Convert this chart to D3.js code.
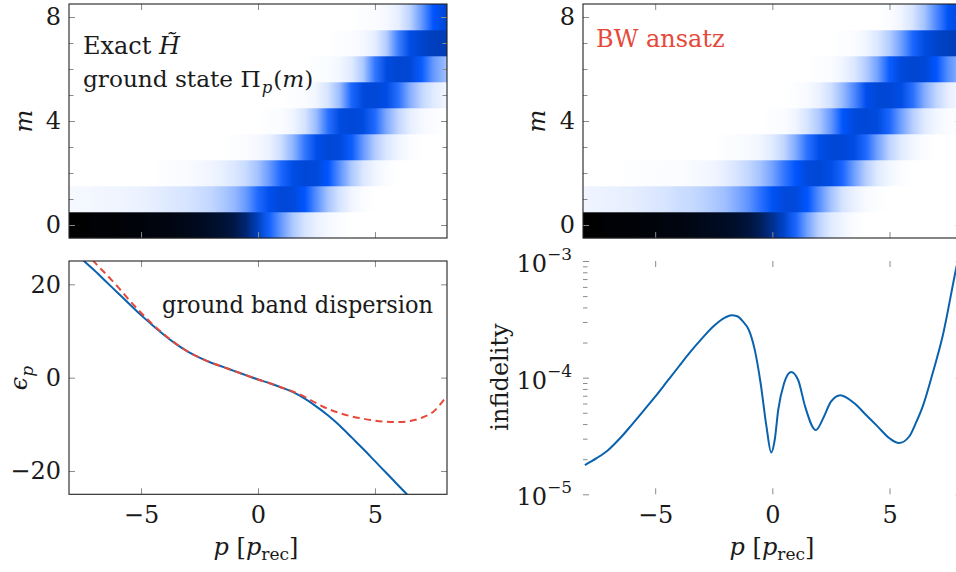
<!DOCTYPE html>
<html><head><meta charset="utf-8">
<script src="https://cdn.jsdelivr.net/npm/d3@7"></script>
<style>
body{margin:0;background:#fff;}
svg text{font-family:"DejaVu Serif",serif;fill:#1a1a1a;}
</style>
</head><body>
<svg id="chart" width="956" height="572"></svg>
<script>
// ---------------- data ----------------
const pGrid = [-8,-7.5,-7,-6.5,-6,-5.5,-5,-4.5,-4,-3.5,-3,-2.5,-2,-1.5,-1,-0.5,0,0.5,1,1.5,2,2.5,3,3.5,4,4.5,5,5.5,6,6.5,7,7.5,8];
const mValues = [0,1,2,3,4,5,6,7,8];

// exact ground state Pi_p(m), one array per m (columns follow pGrid)
const exactM0 = [1.00,1.00,0.99,0.99,0.99,0.98,0.98,0.97,0.97,0.96,0.95,0.94,0.92,0.90,0.86,0.77,0.62,0.46,0.30,0.16,0.08,0.04,0.02,0.01,0,0,0,0,0,0,0,0,0];
const exactM1 = [0.02,0.02,0.025,0.03,0.03,0.035,0.04,0.05,0.06,0.07,0.08,0.10,0.12,0.16,0.21,0.30,0.44,0.54,0.58,0.57,0.50,0.33,0.17,0.08,0.03,0.01,0,0,0,0,0,0,0];
const exactM2 = [0,0,0,0,0,0,0,0,0.005,0.008,0.012,0.02,0.03,0.045,0.07,0.11,0.18,0.30,0.45,0.55,0.58,0.57,0.50,0.32,0.16,0.07,0.03,0.01,0,0,0,0,0];
const exactM3 = [0,0,0,0,0,0,0,0,0,0,0,0,0,0,0.005,0.01,0.02,0.04,0.10,0.22,0.40,0.54,0.58,0.57,0.48,0.30,0.15,0.07,0.03,0.01,0,0,0];
const exactM4 = [0,0,0,0,0,0,0,0,0,0,0,0,0,0,0,0,0,0.005,0.01,0.03,0.08,0.20,0.42,0.56,0.58,0.56,0.44,0.25,0.12,0.05,0.02,0.01,0];
const exactM5 = [0,0,0,0,0,0,0,0,0,0,0,0,0,0,0,0,0,0,0,0.005,0.01,0.03,0.08,0.20,0.45,0.57,0.58,0.55,0.42,0.24,0.12,0.06,0.03];
const exactM6 = [0,0,0,0,0,0,0,0,0,0,0,0,0,0,0,0,0,0,0,0,0,0.005,0.01,0.025,0.06,0.16,0.40,0.56,0.59,0.58,0.48,0.30,0.20];
const exactM7 = [0,0,0,0,0,0,0,0,0,0,0,0,0,0,0,0,0,0,0,0,0,0,0,0.005,0.01,0.02,0.05,0.15,0.38,0.55,0.60,0.63,0.64];
const exactM8 = [0,0,0,0,0,0,0,0,0,0,0,0,0,0,0,0,0,0,0,0,0,0,0,0,0,0.005,0.01,0.02,0.05,0.13,0.30,0.50,0.58];

// BW ansatz Pi_p(m)
const bwM0 = [1.00,1.00,0.99,0.99,0.99,0.98,0.98,0.97,0.97,0.96,0.95,0.94,0.93,0.91,0.88,0.82,0.72,0.60,0.45,0.27,0.13,0.06,0.03,0.01,0,0,0,0,0,0,0,0,0];
const bwM1 = [0.03,0.035,0.04,0.045,0.05,0.06,0.07,0.08,0.10,0.11,0.13,0.16,0.19,0.25,0.32,0.42,0.52,0.57,0.57,0.50,0.33,0.18,0.08,0.04,0.015,0.005,0,0,0,0,0,0,0];
const bwM2 = [0,0,0,0,0.003,0.005,0.007,0.01,0.01,0.015,0.02,0.03,0.05,0.08,0.12,0.18,0.27,0.40,0.50,0.57,0.58,0.55,0.45,0.28,0.14,0.06,0.025,0.01,0,0,0,0,0];
const bwM3 = [0,0,0,0,0,0,0,0,0,0,0,0,0.005,0.01,0.015,0.03,0.06,0.12,0.25,0.42,0.54,0.58,0.58,0.55,0.44,0.27,0.13,0.06,0.025,0.01,0,0,0];
const bwM4 = [0,0,0,0,0,0,0,0,0,0,0,0,0,0,0,0,0.005,0.01,0.03,0.08,0.16,0.30,0.50,0.57,0.58,0.56,0.45,0.28,0.14,0.06,0.025,0.01,0.005];
const bwM5 = [0,0,0,0,0,0,0,0,0,0,0,0,0,0,0,0,0,0,0.005,0.015,0.04,0.09,0.20,0.35,0.54,0.58,0.58,0.55,0.42,0.24,0.12,0.05,0.02];
const bwM6 = [0,0,0,0,0,0,0,0,0,0,0,0,0,0,0,0,0,0,0,0,0.005,0.01,0.03,0.07,0.15,0.28,0.48,0.57,0.59,0.58,0.50,0.33,0.22];
const bwM7 = [0,0,0,0,0,0,0,0,0,0,0,0,0,0,0,0,0,0,0,0,0,0,0.005,0.01,0.03,0.07,0.15,0.28,0.45,0.56,0.60,0.63,0.64];
const bwM8 = [0,0,0,0,0,0,0,0,0,0,0,0,0,0,0,0,0,0,0,0,0,0,0,0,0,0,0.01,0.03,0.08,0.18,0.35,0.52,0.58];

// ground band dispersion
const dispP     = [-8,-7.5,-7,-6.5,-6,-5.5,-5,-4.5,-4,-3.5,-3,-2.5,-2,-1.5,-1,-0.5,0,0.5,1,1.5,2,2.5,3,3.5,4,4.5,5,5.5,6,6.5,7,7.5,8];
const dispExact = [28,25.3,23.0,20.6,18.2,15.8,13.4,11.2,9.1,7.2,5.6,4.3,3.2,2.3,1.4,0.5,-0.4,-1.2,-2.1,-3.1,-4.5,-6.2,-8.1,-10.3,-12.8,-15.3,-17.9,-20.5,-23.1,-25.7,-28.3,-31,-33.6];
const dispBW    = [31,28,24.8,22.2,19.5,16.6,13.9,11.4,9.2,7.25,5.6,4.3,3.2,2.3,1.4,0.5,-0.4,-1.2,-2.1,-3.0,-4.1,-5.5,-6.7,-7.6,-8.3,-8.8,-9.2,-9.45,-9.5,-9.3,-8.6,-7.3,-4.4];

// infidelity
const infP   = [-8,-7.5,-7,-6.5,-6,-5.5,-5,-4.5,-4,-3.5,-3,-2.5,-2,-1.75,-1.5,-1.25,-1,-0.75,-0.5,-0.25,-0.05,0.1,0.25,0.5,0.8,1.1,1.4,1.85,2.2,2.5,2.9,3.5,4,4.5,5,5.4,5.84,6.12,6.41,6.84,7.26,7.83,8.1];
const infVal = [1.78e-5,2.04e-5,2.40e-5,3.02e-5,3.94e-5,5.19e-5,6.87e-5,9.23e-5,1.24e-4,1.66e-4,2.17e-4,2.77e-4,3.29e-4,3.42e-4,3.36e-4,3.02e-4,2.56e-4,1.73e-4,8.95e-5,3.8e-5,2.28e-5,2.92e-5,5.28e-5,8.95e-5,1.12e-4,9.55e-5,5.64e-5,3.55e-5,4.63e-5,6.22e-5,7.08e-5,6.03e-5,4.79e-5,3.8e-5,3.02e-5,2.75e-5,3.13e-5,4.07e-5,5.62e-5,1.09e-4,2.24e-4,8.38e-4,1.5e-3];

const xTicks = [-5,0,5];
const mTicks = [0,4,8];
const mMinor = [0,1,2,3,4,5,6,7,8];
const epsTicks = [-20,0,20];
const infTicks = [1e-5,1e-4,1e-3];
const infMinor = [2e-5,3e-5,4e-5,5e-5,6e-5,7e-5,8e-5,9e-5,2e-4,3e-4,4e-4,5e-4,6e-4,7e-4,8e-4,9e-4];

// ---------------- drawing ----------------
const svg = d3.select("#chart");
const defs = svg.append("defs");
const FONT = "'DejaVu Serif', serif";
const FS = 24;
const SUB = 17;
const tickCol = "#8a8a8a";
const frameCol = "#222";
const blue = "#0a62ae";
const red = "#e6493a";

const xDomain = [-8.08, 8.08];
const L = {
  tl:{x:[69,447],   y:[4,238]},
  tr:{x:[583,961.7],y:[4,238]},
  bl:{x:[69,447],   y:[261,494.3]},
  br:{x:[583,961.7],y:[261,494.3]}
};

const heatColor = d3.scaleLinear().domain([0,0.5,1]).range(["#ffffff","#0055ff","#000000"]).interpolate(d3.interpolateRgb);

function xScale(k){ return d3.scaleLinear().domain(xDomain).range(L[k].x); }

function frame(k){
  const b=L[k];
  svg.append("rect").attr("x",b.x[0]).attr("y",b.y[0]).attr("width",b.x[1]-b.x[0]).attr("height",b.y[1]-b.y[0])
    .attr("fill","none").attr("stroke",frameCol).attr("stroke-width",1.1);
}

function styleAxis(g){
  g.select(".domain").remove();
  g.selectAll(".tick line").attr("stroke",tickCol).attr("stroke-width",1);
  g.attr("font-family",FONT).attr("font-size",FS);
  g.selectAll("text").attr("fill","#1a1a1a");
}

function xAxes(k,x,labels){
  const b=L[k];
  const gb = svg.append("g").attr("transform",`translate(0,${b.y[1]})`)
    .call(d3.axisBottom(x).tickValues(xTicks).tickSizeInner(-6).tickSizeOuter(0).tickPadding(12)
      .tickFormat(labels? d3.format("d") : ""));
  styleAxis(gb);
  const gt = svg.append("g").attr("transform",`translate(0,${b.y[0]})`)
    .call(d3.axisTop(x).tickValues(xTicks).tickSizeInner(-6).tickSizeOuter(0).tickFormat(""));
  styleAxis(gt);
}

function yAxes(k,y,major,minor,fmt){
  const b=L[k];
  const gl = svg.append("g").attr("transform",`translate(${b.x[0]},0)`)
    .call(d3.axisLeft(y).tickValues(major).tickSizeInner(-6).tickSizeOuter(0).tickPadding(8).tickFormat(fmt));
  styleAxis(gl);
  const gr = svg.append("g").attr("transform",`translate(${b.x[1]},0)`)
    .call(d3.axisRight(y).tickValues(major).tickSizeInner(-6).tickSizeOuter(0).tickFormat(""));
  styleAxis(gr);
  if(minor){
    [["L",b.x[0]],["R",b.x[1]]].forEach(([s,xx])=>{
      const ax = (s==="L"? d3.axisLeft(y): d3.axisRight(y)).tickValues(minor).tickSizeInner(-4.5).tickSizeOuter(0).tickFormat("");
      const g = svg.append("g").attr("transform",`translate(${xx},0)`).call(ax);
      styleAxis(g);
    });
  }
  return gl;
}

function heatPanel(k, rows, id){
  const x = xScale(k);
  const y = d3.scaleLinear().domain([-0.5,8.5]).range([L[k].y[1],L[k].y[0]]);
  const x0 = x(pGrid[0]), x1 = x(pGrid[pGrid.length-1]);
  rows.forEach((vals,i)=>{
    const gid = `${id}-row${i}`;
    const grad = defs.append("linearGradient").attr("id",gid).attr("gradientUnits","userSpaceOnUse")
      .attr("x1",x0).attr("x2",x1).attr("y1",0).attr("y2",0);
    vals.forEach((v,j)=>{
      grad.append("stop").attr("offset",(x(pGrid[j])-x0)/(x1-x0)).attr("stop-color",heatColor(v));
    });
  });
  svg.append("g").selectAll("rect").data(mValues).join("rect")
    .attr("x",x(xDomain[0])).attr("width",x(xDomain[1])-x(xDomain[0]))
    .attr("y",m=>y(m+0.5)).attr("height",m=>y(m-0.5)-y(m+0.5)+0.3)
    .attr("fill",m=>`url(#${id}-row${m})`);
  xAxes(k,x,false);
  yAxes(k,y,mTicks,mMinor,d3.format("d"));
  frame(k);
  return {x,y};
}

function T(sel){ return sel.attr("font-family",FONT).attr("font-size",FS); }

// top-left: exact
heatPanel("tl",[exactM0,exactM1,exactM2,exactM3,exactM4,exactM5,exactM6,exactM7,exactM8],"ex");
// top-right: BW ansatz
heatPanel("tr",[bwM0,bwM1,bwM2,bwM3,bwM4,bwM5,bwM6,bwM7,bwM8],"bw");

// m labels
[["tl",32],["tr",545]].forEach(([k,xx])=>{
  T(svg.append("text")).attr("transform",`translate(${xx},121) rotate(-90)`).attr("text-anchor","middle")
    .attr("font-style","italic").text("m");
});

// panel annotations
const t1 = T(svg.append("text")).attr("x",83).attr("y",54);
t1.append("tspan").text("Exact ");
t1.append("tspan").attr("font-style","italic").text("H\u0303");
const t2 = T(svg.append("text")).attr("x",83).attr("y",87).attr("font-size",23.2);
t2.append("tspan").text("ground state Π");
t2.append("tspan").attr("font-style","italic").attr("font-size",16.5).attr("dx",1).attr("dy",6).text("p");
t2.append("tspan").attr("dx",1).attr("dy",-6).text("(");
t2.append("tspan").attr("font-style","italic").text("m");
t2.append("tspan").text(")");
T(svg.append("text")).attr("x",596).attr("y",47).style("fill",red).text("BW ansatz");

// ---------- bottom-left: dispersion ----------
{
  const k="bl";
  const x = xScale(k);
  const y = d3.scaleLinear().domain([-25,25]).range([L[k].y[1],L[k].y[0]]);
  defs.append("clipPath").attr("id","clipBL").append("rect")
    .attr("x",L[k].x[0]).attr("y",L[k].y[0]).attr("width",L[k].x[1]-L[k].x[0]).attr("height",L[k].y[1]-L[k].y[0]);
  const line = d3.line().x(d=>x(d[0])).y(d=>y(d[1])).curve(d3.curveCatmullRom.alpha(0.5));
  const g = svg.append("g").attr("clip-path","url(#clipBL)");
  g.append("path").datum(d3.zip(dispP,dispExact)).attr("d",line).attr("fill","none").attr("stroke",blue).attr("stroke-width",2);
  g.append("path").datum(d3.zip(dispP,dispBW)).attr("d",line).attr("fill","none").attr("stroke",red).attr("stroke-width",2).attr("stroke-dasharray","7,4.5");
  xAxes(k,x,true);
  yAxes(k,y,epsTicks,null,d3.format("d"));
  frame(k);
  T(svg.append("text")).attr("x",162).attr("y",313).attr("textLength",271).attr("lengthAdjust","spacingAndGlyphs").text("ground band dispersion");
  const el = T(svg.append("text")).attr("transform","translate(27,378) rotate(-90)").attr("text-anchor","middle");
  el.append("tspan").attr("font-style","italic").text("ϵ");
  el.append("tspan").attr("font-style","italic").attr("font-size",SUB).attr("dy",6).text("p");
}

// ---------- bottom-right: infidelity ----------
{
  const k="br";
  const x = xScale(k);
  const y = d3.scaleLog().domain([1e-5,1e-3]).range([L[k].y[1],L[k].y[0]]);
  defs.append("clipPath").attr("id","clipBR").append("rect")
    .attr("x",L[k].x[0]).attr("y",L[k].y[0]).attr("width",L[k].x[1]-L[k].x[0]).attr("height",L[k].y[1]-L[k].y[0]);
  const line = d3.line().x(d=>x(d[0])).y(d=>y(d[1])).curve(d3.curveMonotoneX);
  svg.append("g").attr("clip-path","url(#clipBR)")
    .append("path").datum(d3.zip(infP,infVal)).attr("d",line).attr("fill","none").attr("stroke",blue).attr("stroke-width",2);
  xAxes(k,x,true);
  yAxes(k,y,infTicks,infMinor,()=>"");
  infTicks.forEach(v=>{
    const e = Math.round(Math.log10(v));
    const t = T(svg.append("text")).attr("x",L[k].x[0]-11).attr("y",y(v)+11).attr("text-anchor","end");
    t.append("tspan").text("10");
    t.append("tspan").attr("font-size",SUB).attr("dy",-12).text("\u2212"+Math.abs(e));
  });
  T(svg.append("text")).attr("transform","translate(508,377) rotate(-90)").attr("text-anchor","middle").text("infidelity");
}

// x labels
[["bl",256],["br",772]].forEach(([k,cx])=>{
  const t = T(svg.append("text")).attr("x",cx).attr("y",555).attr("text-anchor","middle");
  t.append("tspan").attr("font-style","italic").text("p");
  t.append("tspan").text(" [");
  t.append("tspan").attr("font-style","italic").text("p");
  t.append("tspan").attr("font-size",SUB).attr("dy",5).text("rec");
  t.append("tspan").attr("dy",-5).text("]");
});
</script>
</body></html>
